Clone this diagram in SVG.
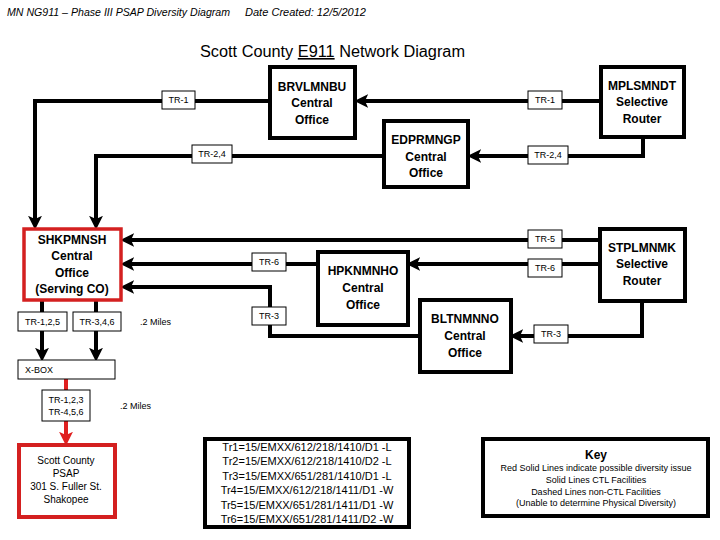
<svg xmlns="http://www.w3.org/2000/svg" width="720" height="540" viewBox="0 0 720 540">
<style>
.box{fill:#fff;stroke:#000;stroke-width:4}
.rbox{fill:#fff;stroke:#d42020;stroke-width:4}
.conn{fill:none;stroke:#000;stroke-width:4}
.rconn{fill:none;stroke:#e02020;stroke-width:4}
.lbl{fill:#fff;stroke:#000;stroke-width:1}
.lt{font-family:"Liberation Sans",Arial,sans-serif;font-size:9px;text-anchor:middle;fill:#000}
.nt{font-family:"Liberation Sans",Arial,sans-serif;font-size:12px;font-weight:bold;text-anchor:middle;fill:#000}
.hd{font-family:"Liberation Sans",Arial,sans-serif;font-size:10px;font-style:italic;fill:#000}
.tt{font-family:"Liberation Sans",Arial,sans-serif;font-size:11px;text-anchor:middle;fill:#000}
.kt{font-family:"Liberation Sans",Arial,sans-serif;font-size:9px;text-anchor:middle;fill:#000}
.pt{font-family:"Liberation Sans",Arial,sans-serif;font-size:10px;text-anchor:middle;fill:#000}
</style>
<defs>
<marker id="ah" markerUnits="userSpaceOnUse" markerWidth="15" markerHeight="15" viewBox="0 -7 14 14" refX="3" refY="0" orient="auto">
<path d="M0,-6.5 L13,0 L0,6.5 L3,0 Z" fill="#000"/>
</marker>
<marker id="ahr" markerUnits="userSpaceOnUse" markerWidth="15" markerHeight="15" viewBox="0 -7 14 14" refX="3" refY="0" orient="auto">
<path d="M0,-6.5 L13,0 L0,6.5 L3,0 Z" fill="#e02020"/>
</marker>
</defs>
<rect width="720" height="540" fill="#fff"/>
<text class="hd" x="7" y="16" textLength="223" lengthAdjust="spacingAndGlyphs">MN NG911 – Phase III PSAP Diversity Diagram</text>
<text class="hd" x="245" y="16" textLength="121" lengthAdjust="spacingAndGlyphs">Date Created: 12/5/2012</text>
<text x="200" y="57" font-family="Liberation Sans, Arial, sans-serif" font-size="16" textLength="265" lengthAdjust="spacingAndGlyphs">Scott County <tspan style="text-decoration:underline">E911</tspan> Network Diagram</text>

<g id="connectors">
<path class="conn" d="M270,101 H35 V219" marker-end="url(#ah)"/>
<path class="conn" d="M600,101 H365" marker-end="url(#ah)"/>
<path class="conn" d="M384,156 H96 V219" marker-end="url(#ah)"/>
<path class="conn" d="M643,138 V156 H478" marker-end="url(#ah)"/>
<path class="conn" d="M599,240 H131" marker-end="url(#ah)"/>
<path class="conn" d="M318,264 H131" marker-end="url(#ah)"/>
<path class="conn" d="M599,264 H417" marker-end="url(#ah)"/>
<path class="conn" d="M420,336 H270 V287 H131" marker-end="url(#ah)"/>
<path class="conn" d="M642,301 V336 H520" marker-end="url(#ah)"/>
<path class="conn" d="M42,301 V351" marker-end="url(#ah)"/>
<path class="conn" d="M96,301 V351" marker-end="url(#ah)"/>
<path class="rconn" d="M66,379 V435" marker-end="url(#ahr)"/>
<g id="labels">
<rect class="lbl" x="162" y="91" width="33" height="18"/><text class="lt" x="178.5" y="103">TR-1</text>
<rect class="lbl" x="528" y="91" width="34" height="18"/><text class="lt" x="545" y="103">TR-1</text>
<rect class="lbl" x="192" y="145" width="40" height="18"/><text class="lt" x="212" y="157">TR-2,4</text>
<rect class="lbl" x="528" y="146" width="40" height="18"/><text class="lt" x="548" y="158">TR-2,4</text>
<rect class="lbl" x="528" y="230" width="34" height="18"/><text class="lt" x="545" y="242">TR-5</text>
<rect class="lbl" x="252" y="253" width="34" height="18"/><text class="lt" x="269" y="265">TR-6</text>
<rect class="lbl" x="528" y="259" width="34" height="18"/><text class="lt" x="545" y="271">TR-6</text>
<rect class="lbl" x="252" y="307" width="34" height="18"/><text class="lt" x="269" y="319">TR-3</text>
<rect class="lbl" x="534" y="325" width="34" height="18"/><text class="lt" x="551" y="337">TR-3</text>
<rect class="lbl" x="18" y="312" width="49" height="19"/><text class="lt" x="42.5" y="325">TR-1,2,5</text>
<rect class="lbl" x="73" y="312" width="48" height="19"/><text class="lt" x="97" y="325">TR-3,4,6</text>
<rect class="lbl" x="42" y="390" width="48" height="31"/><text class="lt" x="66" y="403">TR-1,2,3</text><text class="lt" x="66" y="415">TR-4,5,6</text>
<text class="lt" x="140" y="325" style="text-anchor:start">.2 Miles</text>
<text class="lt" x="120" y="409" style="text-anchor:start">.2 Miles</text>
</g>
</g>

<g id="BRVLMNBU">
<rect class="box" x="270" y="67" width="85" height="71"/>
<text class="nt" x="312" y="91">BRVLMNBU</text><text class="nt" x="312" y="107">Central</text><text class="nt" x="312" y="124">Office</text>
</g>
<g id="MPLSMNDT">
<rect class="box" x="601" y="67" width="83" height="70"/>
<text class="nt" x="642" y="90">MPLSMNDT</text><text class="nt" x="642" y="106">Selective</text><text class="nt" x="642" y="123">Router</text>
</g>
<g id="EDPRMNGP">
<rect class="box" x="384" y="121" width="84" height="66"/>
<text class="nt" x="426" y="144">EDPRMNGP</text><text class="nt" x="426" y="161">Central</text><text class="nt" x="426" y="177">Office</text>
</g>
<g id="SHKPMNSH">
<rect class="rbox" x="24" y="229" width="97" height="71" style="stroke-width:3.5"/>
<text class="nt" x="72" y="244">SHKPMNSH</text><text class="nt" x="72" y="260">Central</text><text class="nt" x="72" y="277">Office</text><text class="nt" x="72" y="293">(Serving CO)</text>
</g>
<g id="HPKNMNHO">
<rect class="box" x="318" y="252" width="90" height="73"/>
<text class="nt" x="363" y="275">HPKNMNHO</text><text class="nt" x="363" y="292">Central</text><text class="nt" x="363" y="309">Office</text>
</g>
<g id="STPLMNMK">
<rect class="box" x="600" y="229" width="85" height="72"/>
<text class="nt" x="642" y="252">STPLMNMK</text><text class="nt" x="642" y="268">Selective</text><text class="nt" x="642" y="285">Router</text>
</g>
<g id="BLTNMNNO">
<rect class="box" x="420" y="300" width="91" height="72"/>
<text class="nt" x="465" y="323">BLTNMNNO</text><text class="nt" x="465" y="340">Central</text><text class="nt" x="465" y="357">Office</text>
</g>
<g id="XBOX">
<rect class="lbl" x="18" y="360" width="97" height="19"/>
<text class="lt" x="25" y="373" style="text-anchor:start">X-BOX</text>
</g>
<g id="PSAP">
<rect class="rbox" x="19" y="445" width="96" height="72"/>
<text class="pt" x="66" y="464">Scott County</text><text class="pt" x="66" y="477">PSAP</text><text class="pt" x="66" y="490">301 S. Fuller St.</text><text class="pt" x="66" y="503">Shakopee</text>
</g>
<g id="trunks">
<rect class="box" x="205" y="439" width="204" height="88"/>
<text class="tt" x="307" y="451">Tr1=15/EMXX/612/218/1410/D1 -L</text>
<text class="tt" x="307" y="465">Tr2=15/EMXX/612/218/1410/D2 -L</text>
<text class="tt" x="307" y="480">Tr3=15/EMXX/651/281/1410/D1 -L</text>
<text class="tt" x="307" y="494">Tr4=15/EMXX/612/218/1411/D1 -W</text>
<text class="tt" x="307" y="509">Tr5=15/EMXX/651/281/1411/D1 -W</text>
<text class="tt" x="307" y="523">Tr6=15/EMXX/651/281/1411/D2 -W</text>
</g>
<g id="key">
<rect class="box" x="483" y="439" width="225" height="77"/>
<text x="596" y="459" font-family="Liberation Sans, Arial, sans-serif" font-size="12" font-weight="bold" text-anchor="middle">Key</text>
<text class="kt" x="596" y="471">Red Solid Lines indicate possible diversity issue</text>
<text class="kt" x="596" y="483">Solid Lines CTL Facilities</text>
<text class="kt" x="596" y="495">Dashed Lines non-CTL Facilities</text>
<text class="kt" x="596" y="506">(Unable to determine Physical Diversity)</text>
</g>
</svg>
